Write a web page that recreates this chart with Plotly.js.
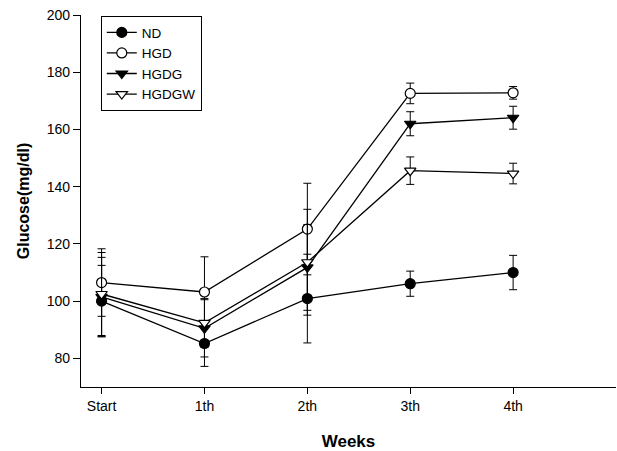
<!DOCTYPE html>
<html>
<head>
<meta charset="utf-8">
<script src="https://cdn.plot.ly/plotly-3.0.1.min.js"></script>
<style>html,body{margin:0;padding:0;background:#fff}#chart{width:617px;height:451px}</style>
</head>
<body>
<div id="chart"></div>
<script>
var weeks = ["Start", "1th", "2th", "3th", "4th"];
var weekPos = [0, 1, 2, 3, 4];

var ndMean = [100, 85.2, 100.9, 106.1, 110];
var ndErr = [12.5, 8, 15.5, 4.4, 6];

var hgdMean = [106.5, 103.2, 125.2, 172.6, 172.8];
var hgdErr = [11.8, 12.3, 16, 3.6, 2.2];

var hgdgMean = [101.5, 90.5, 111.8, 162, 164.1];
var hgdgErr = [13.8, 10, 15, 4.2, 4];

var hgdgwMean = [102.5, 92.4, 113.6, 145.6, 144.6];
var hgdgwErr = [14.5, 8.5, 18.5, 4.8, 3.6];

function tr(name, mean, err, symbol, fill) {
  return {
    type: 'scatter', mode: 'lines+markers', name: name,
    x: weekPos, y: mean,
    line: {color: '#000', width: 1.3},
    marker: {symbol: symbol, size: 10, color: fill, line: {color: '#000', width: 1.2}},
    error_y: {type: 'data', array: err, visible: true, color: '#000', thickness: 1, width: 4}
  };
}

var data = [
  tr('ND', ndMean, ndErr, 'circle', '#000'),
  tr('HGD', hgdMean, hgdErr, 'circle', '#fff'),
  tr('HGDG', hgdgMean, hgdgErr, 'triangle-down', '#000'),
  tr('HGDGW', hgdgwMean, hgdgwErr, 'triangle-down', '#fff')
];

var layout = {
  width: 617, height: 451,
  margin: {l: 81, r: 1, t: 15, b: 64},
  paper_bgcolor: '#fff', plot_bgcolor: '#fff',
  font: {family: 'Liberation Sans, Arial, sans-serif', color: '#000', size: 14},
  showlegend: true,
  legend: {x: 0.037, y: 0.997, xanchor: 'left', yanchor: 'top', bordercolor: '#000', borderwidth: 1, bgcolor: '#fff', font: {size: 13.5}, tracegroupgap: 0, itemwidth: 30},
  xaxis: {
    range: [-0.2, 5.0], tickvals: weekPos, ticktext: weeks,
    showline: true, linecolor: '#000', linewidth: 1.2, ticks: 'outside', ticklen: 6, tickcolor: '#000',
    showgrid: false, zeroline: false, mirror: false,
    tickfont: {size: 14},
    title: {text: '<b>Weeks</b>', font: {size: 17}, standoff: 22}
  },
  yaxis: {
    range: [70, 200], tickvals: [80, 100, 120, 140, 160, 180, 200],
    showline: true, linecolor: '#000', linewidth: 1.2, ticks: 'outside', ticklen: 7, tickcolor: '#000',
    showgrid: false, zeroline: false,
    tickfont: {size: 14},
    title: {text: '<b>Glucose(mg/dl)</b>', font: {size: 16}, standoff: 13}
  }
};

Plotly.newPlot('chart', data, layout, {displayModeBar: false, staticPlot: true});
</script>
</body>
</html>
